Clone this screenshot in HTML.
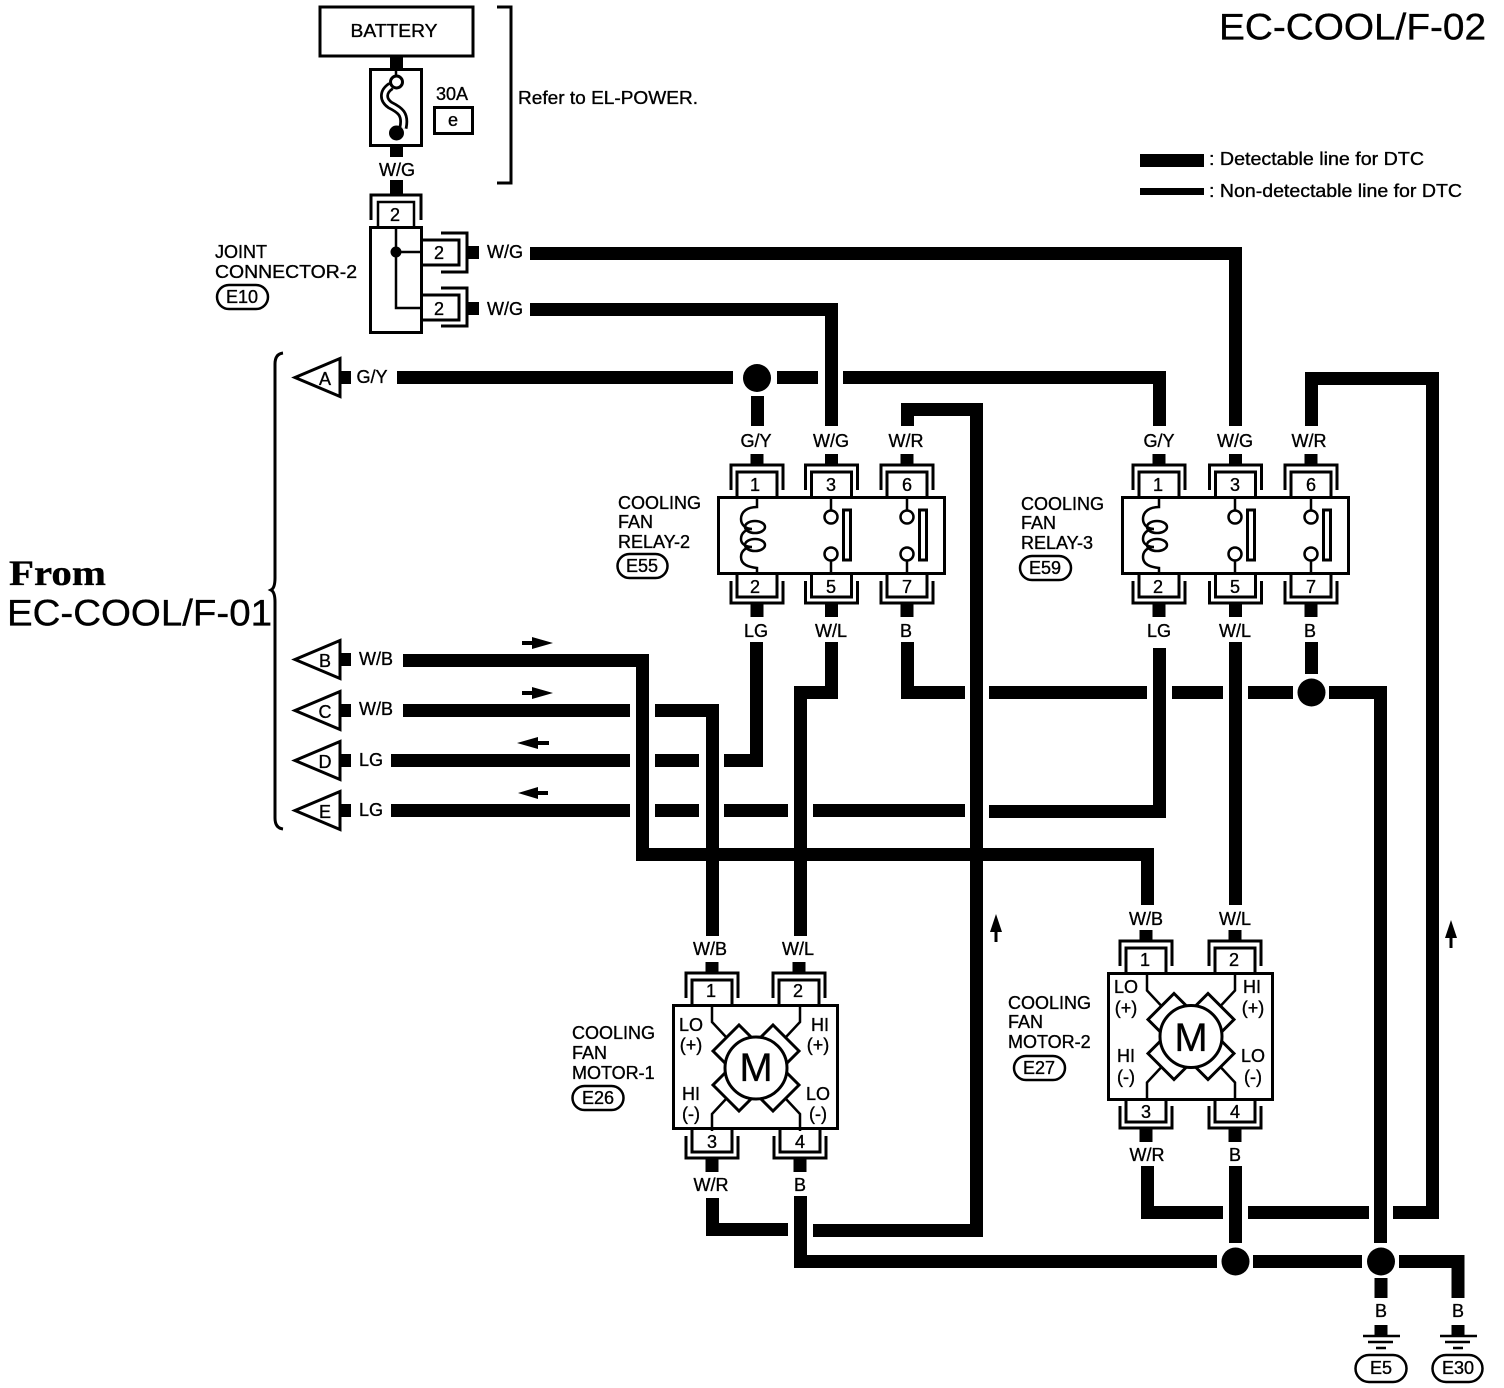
<!DOCTYPE html>
<html><head><meta charset="utf-8"><style>
html,body{margin:0;padding:0;background:#fff}
svg{display:block}
text{font-family:"Liberation Sans",sans-serif;font-size:18px;fill:#000;stroke:#000;stroke-width:.35;text-anchor:middle;dominant-baseline:central}
.l{text-anchor:start}
.w{fill:none;stroke:#000;stroke-width:13;stroke-linecap:butt;stroke-linejoin:miter}
.s{fill:none;stroke:#000;stroke-width:3}
.t{fill:none;stroke:#000;stroke-width:2.5}
.f{fill:#fff;stroke:#000;stroke-width:3}
</style></head><body>
<svg width="1504" height="1388" viewBox="0 0 1504 1388" xmlns="http://www.w3.org/2000/svg">
<defs>
<g id="pt"><path class="s" d="M-20 0V-25H20V0"/><path class="s" d="M-26 -7V-32H26V-7"/><rect x="-6.5" y="-43" width="13" height="11"/></g>
<g id="pb"><path class="s" d="M-20 0V23H20V0"/><path class="s" d="M-26 7V29H26V7"/><rect x="-6.5" y="29" width="13" height="14"/></g>
<g id="contact"><path class="t" d="M0 0V13.500M0 63.500V77"/><circle class="t" cx="0" cy="20" r="6.500"/><circle class="t" cx="0" cy="57" r="6.500"/><rect class="s" x="12.500" y="13" width="7" height="50"/></g>
<g id="coil"><path class="t" d="M0 0V10C-10 10-16 15-16 22C-16 28-11 32-5 32M-5 32C-11 32-16 36-16 42C-16 47-11 50-5 50M-5 50C-11 50-16 54-16 60C-16 68-8 70 0 71V77"/><ellipse class="t" cx="-2" cy="30" rx="10" ry="6"/><ellipse class="t" cx="-2" cy="48" rx="10" ry="6"/></g>
<g id="br"><path class="t" d="M-44 -63V-46L-30 -31"/><path class="f" d="M-43 -17L-17 -43L-5 -31L-31 -5Z"/></g>
<g id="mot">
<use href="#br"/><use href="#br" transform="scale(-1,1)"/><use href="#br" transform="scale(1,-1)"/><use href="#br" transform="scale(-1,-1)"/>
<circle class="f" r="31"/>
</g>
<g id="gnd"><rect x="-6.5" y="0" width="13" height="11"/><path class="t" d="M-18 11H19M-13 17H12M-5 23H5"/></g>
</defs>

<!-- title and legend -->
<text class="l" x="1219" y="27" style="font-size:37px" textLength="267" lengthAdjust="spacingAndGlyphs">EC-COOL/F-02</text>
<rect x="1140" y="154" width="64" height="13"/>
<rect x="1140" y="188" width="64" height="7"/>
<text class="l" x="1209" y="159" textLength="215" lengthAdjust="spacingAndGlyphs">: Detectable line for DTC</text>
<text class="l" x="1209" y="191" textLength="253" lengthAdjust="spacingAndGlyphs">: Non-detectable line for DTC</text>

<!-- battery -->
<rect class="s" x="320" y="7" width="153" height="49"/>
<text x="394" y="31" textLength="87" lengthAdjust="spacingAndGlyphs">BATTERY</text>
<rect x="390" y="56" width="13" height="13"/>
<rect class="s" x="370.500" y="69.500" width="51" height="76"/>
<path class="t" d="M396 69V76"/>
<path d="M391 86C382 92 383 100 390 105C400 110 406 114 403 128" fill="none" stroke="#000" stroke-width="9"/>
<path d="M391 86C382 92 383 100 390 105C400 110 406 114 403 128" fill="none" stroke="#fff" stroke-width="3.500"/>
<circle class="f" cx="396.500" cy="82" r="6"/>
<circle cx="396.500" cy="133" r="7.500"/>
<rect x="390" y="145" width="13" height="12"/>
<text x="397" y="170">W/G</text>
<rect x="390" y="180" width="13" height="14"/>
<text x="452" y="94">30A</text>
<rect class="s" x="434.500" y="107.500" width="38" height="26"/>
<text x="453" y="120">e</text>
<path class="s" d="M497 7H511V183H497"/>
<text class="l" x="518" y="98" textLength="180" lengthAdjust="spacingAndGlyphs">Refer to EL-POWER.</text>

<!-- joint connector -->
<path class="s" d="M371 220V195H421V220"/>
<path class="t" d="M378 227V202H414V227"/>
<text x="395" y="215">2</text>
<rect class="s" x="370.500" y="227.500" width="51" height="105"/>
<path class="t" d="M396 227V308H422M396 252H422"/>
<circle cx="396" cy="252" r="5.500"/>
<path class="s" d="M422 240H459V265H422"/>
<path class="s" d="M441 233H467V272H441"/>
<text x="439" y="253">2</text>
<rect x="467" y="246" width="12" height="13"/>
<path class="s" d="M422 295H459V320H422"/>
<path class="s" d="M441 288H467V326H441"/>
<text x="439" y="309">2</text>
<rect x="467" y="302" width="12" height="13"/>
<text x="505" y="252">W/G</text>
<text x="505" y="309">W/G</text>
<text class="l" x="215" y="252">JOINT</text>
<text class="l" x="215" y="272" textLength="142" lengthAdjust="spacingAndGlyphs">CONNECTOR-2</text>
<rect class="t" x="217" y="285" width="51" height="24" rx="12"/>
<text x="242" y="297">E10</text>

<!-- wires -->
<path class="w" d="M530 253.500H1235.500V426"/>
<path class="w" d="M530 309.500H831.500V426"/>
<path class="w" d="M397 377.500H733"/>
<circle cx="757" cy="378" r="14"/>
<path class="w" d="M777 377.500H818"/>
<path class="w" d="M843 377.500H1159.500V426"/>
<path class="w" d="M757.500 396V426"/>
<path class="w" d="M907.500 426V409.500H976.500V1230.500H813"/>
<path class="w" d="M712.500 1198V1229.500H788"/>
<path class="w" d="M1311.500 426V378.500H1432.500V1212.500H1393"/>
<path class="w" d="M1369 1212.500H1248M1223 1212.500H1147.500V1166"/>
<path class="w" d="M907.500 642V692.500H965"/>
<path class="w" d="M989 692.500H1147M1172 692.500H1223M1248 692.500H1293"/>
<circle cx="1311.500" cy="692.500" r="14"/>
<path class="w" d="M1311.500 642V674"/>
<path class="w" d="M1329 692.500H1380.500V1243"/>
<path class="w" d="M1235.500 642V905"/>
<path class="w" d="M831.500 642V692.500H800.500V936"/>
<path class="w" d="M403 660.500H642.500V854.500H1147.500V905"/>
<path class="w" d="M403 710.500H630M655 710.500H712.500V936"/>
<path class="w" d="M391 760.500H630M655 760.500H699M724 760.500H756.500V642"/>
<path class="w" d="M391 810.500H630M655 810.500H699M724 810.500H788M813 810.500H965M989 811.500H1159.500V648"/>
<path class="w" d="M800.500 1196V1261.500H1217"/>
<circle cx="1235.500" cy="1261.500" r="14"/>
<path class="w" d="M1235.500 1166V1243"/>
<path class="w" d="M1253 1261.500H1362"/>
<circle cx="1381" cy="1261.500" r="14"/>
<path class="w" d="M1399 1261.500H1458V1298"/>
<path class="w" d="M1381 1278V1298"/>

<!-- left side -->
<text class="l" x="9" y="573" style="font-family:'Liberation Serif',serif;font-weight:bold;font-size:36px" textLength="97" lengthAdjust="spacingAndGlyphs">From</text>
<text class="l" x="7" y="613" style="font-size:37px" textLength="265" lengthAdjust="spacingAndGlyphs">EC-COOL/F-01</text>
<path class="s" d="M283 353Q275 354 275 364V578Q275 588 271 590Q275 592 275 602V818Q275 828 283 829"/>
<path class="s" d="M340 358.500L295 377.500L340 396.500Z"/>
<path class="s" d="M340 640.500L295 659.500L340 678.500Z"/>
<path class="s" d="M340 691.500L295 710.500L340 729.500Z"/>
<path class="s" d="M340 741.500L295 760.500L340 779.500Z"/>
<path class="s" d="M340 791.500L295 810.500L340 829.500Z"/>
<text x="325" y="379">A</text><text x="325" y="661">B</text><text x="325" y="712">C</text><text x="325" y="762">D</text><text x="325" y="812">E</text>
<rect x="340" y="371" width="11" height="13"/><rect x="340" y="653" width="11" height="13"/><rect x="340" y="704" width="11" height="13"/><rect x="340" y="754" width="11" height="13"/><rect x="340" y="804" width="11" height="13"/>
<text x="372" y="377">G/Y</text><text x="376" y="659">W/B</text><text x="376" y="709">W/B</text><text x="371" y="760">LG</text><text x="371" y="810">LG</text>

<!-- arrows -->
<path d="M522 641H532V637L553 643L532 649V645H522Z"/>
<path d="M522 691H532V687L553 693L532 699V695H522Z"/>
<path d="M549 741H538V737L517 743L538 749V745H549Z"/>
<path d="M548 791H538V787L518 793L538 799V795H548Z"/>
<path d="M994.500 942V932H990L996 914L1002 932H997.500V942Z"/>
<path d="M1449.500 948V938H1445L1451 920L1457 938H1452.500V948Z"/>

<!-- relay 2 -->
<rect class="s" x="718.500" y="497.500" width="226" height="76"/>
<use href="#pt" x="757" y="497"/><use href="#pt" x="831.500" y="497"/><use href="#pt" x="907" y="497"/>
<use href="#pb" x="757" y="574"/><use href="#pb" x="831.500" y="574"/><use href="#pb" x="907" y="574"/>
<use href="#coil" x="757" y="497"/><use href="#contact" x="831" y="497"/><use href="#contact" x="907" y="497"/>
<text x="755" y="485">1</text><text x="831" y="485">3</text><text x="907" y="485">6</text>
<text x="755" y="587">2</text><text x="831" y="587">5</text><text x="907" y="587">7</text>
<text x="756" y="441">G/Y</text><text x="831" y="441">W/G</text><text x="906" y="441">W/R</text>
<text x="756" y="631">LG</text><text x="831" y="631">W/L</text><text x="906" y="631">B</text>
<text class="l" x="618" y="503">COOLING</text><text class="l" x="618" y="522">FAN</text><text class="l" x="618" y="542">RELAY-2</text>
<rect class="t" x="617.500" y="554" width="50" height="24" rx="12"/><text x="642" y="566">E55</text>

<!-- relay 3 -->
<rect class="s" x="1122.500" y="497.500" width="226" height="76"/>
<use href="#pt" x="1159" y="497"/><use href="#pt" x="1235.500" y="497"/><use href="#pt" x="1311" y="497"/>
<use href="#pb" x="1159" y="574"/><use href="#pb" x="1235.500" y="574"/><use href="#pb" x="1311" y="574"/>
<use href="#coil" x="1159" y="497"/><use href="#contact" x="1235" y="497"/><use href="#contact" x="1311" y="497"/>
<text x="1158" y="485">1</text><text x="1235" y="485">3</text><text x="1311" y="485">6</text>
<text x="1158" y="587">2</text><text x="1235" y="587">5</text><text x="1311" y="587">7</text>
<text x="1159" y="441">G/Y</text><text x="1235" y="441">W/G</text><text x="1309" y="441">W/R</text>
<text x="1159" y="631">LG</text><text x="1235" y="631">W/L</text><text x="1310" y="631">B</text>
<text class="l" x="1021" y="504">COOLING</text><text class="l" x="1021" y="523">FAN</text><text class="l" x="1021" y="543">RELAY-3</text>
<rect class="t" x="1020" y="556" width="51" height="24" rx="12"/><text x="1045" y="568">E59</text>

<!-- motor 1 -->
<rect class="s" x="673.500" y="1005.500" width="164" height="123"/>
<use href="#pt" x="712" y="1005"/><use href="#pt" x="799" y="1005"/>
<use href="#pb" x="712" y="1129"/><use href="#pb" x="800" y="1129"/>
<use href="#mot" x="756" y="1068"/>
<text x="756" y="1068" style="font-size:40px">M</text>
<text x="711" y="991">1</text><text x="798" y="991">2</text><text x="712" y="1142">3</text><text x="800" y="1142">4</text>
<text x="710" y="949">W/B</text><text x="798" y="949">W/L</text><text x="711" y="1185">W/R</text><text x="800" y="1185">B</text>
<text x="691" y="1025">LO</text><text x="691" y="1045">(+)</text><text x="820" y="1025">HI</text><text x="818" y="1045">(+)</text>
<text x="691" y="1094">HI</text><text x="691" y="1114">(-)</text><text x="818" y="1094">LO</text><text x="818" y="1114">(-)</text>
<text class="l" x="572" y="1033">COOLING</text><text class="l" x="572" y="1053">FAN</text><text class="l" x="572" y="1073">MOTOR-1</text>
<rect class="t" x="572.500" y="1086" width="51" height="24" rx="12"/><text x="598" y="1098">E26</text>

<!-- motor 2 -->
<rect class="s" x="1108.500" y="973.500" width="164" height="126"/>
<use href="#pt" x="1146" y="973"/><use href="#pt" x="1235" y="973"/>
<use href="#pb" x="1146" y="1099"/><use href="#pb" x="1235" y="1099"/>
<use href="#mot" x="1191" y="1036.500"/>
<text x="1191" y="1038" style="font-size:40px">M</text>
<text x="1145" y="960">1</text><text x="1234" y="960">2</text><text x="1146" y="1112">3</text><text x="1235" y="1112">4</text>
<text x="1146" y="919">W/B</text><text x="1235" y="919">W/L</text><text x="1147" y="1155">W/R</text><text x="1235" y="1155">B</text>
<text x="1126" y="987">LO</text><text x="1126" y="1008">(+)</text><text x="1252" y="987">HI</text><text x="1253" y="1008">(+)</text>
<text x="1126" y="1056">HI</text><text x="1126" y="1077">(-)</text><text x="1253" y="1056">LO</text><text x="1253" y="1077">(-)</text>
<text class="l" x="1008" y="1003">COOLING</text><text class="l" x="1008" y="1022">FAN</text><text class="l" x="1008" y="1042">MOTOR-2</text>
<rect class="t" x="1014" y="1056" width="51" height="24" rx="12"/><text x="1039" y="1068">E27</text>

<!-- grounds -->
<text x="1381" y="1311">B</text><text x="1458" y="1311">B</text>
<use href="#gnd" x="1381" y="1325"/><use href="#gnd" x="1458" y="1325"/>
<rect class="t" x="1355.500" y="1355" width="51" height="27" rx="13.500"/><text x="1381" y="1368">E5</text>
<rect class="t" x="1432.500" y="1355" width="50" height="27" rx="13.500"/><text x="1458" y="1368">E30</text>
</svg>
</body></html>
